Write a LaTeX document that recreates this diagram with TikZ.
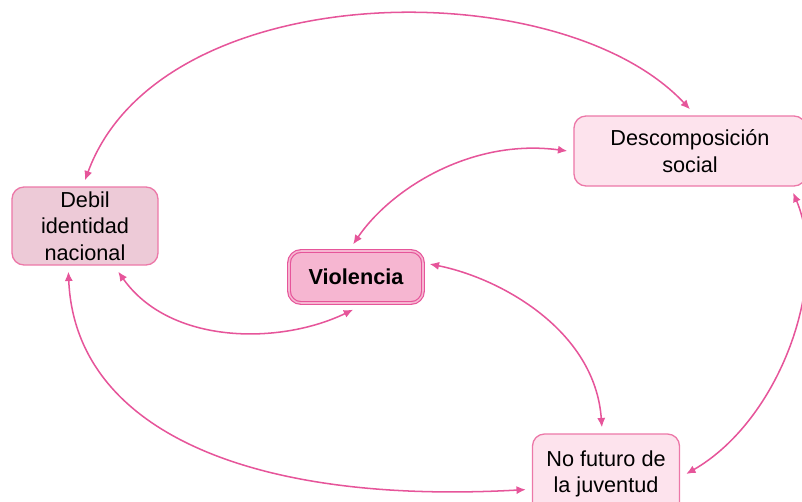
\documentclass[tikz,border=0pt]{standalone}
\usepackage{fontspec}
\setmainfont{Liberation Sans}
\usepackage{tikz}
\usetikzlibrary{arrows.meta}

\definecolor{linkpink}{HTML}{E6559A}
\definecolor{edgepink}{HTML}{EC78A8}
\definecolor{fillrose}{HTML}{EDCAD7}
\definecolor{filllight}{HTML}{FDE3ED}
\definecolor{fillmid}{HTML}{F6B6D1}

\begin{document}
\begin{tikzpicture}[x=0.03cm,y=-0.03cm]
\tikzset{box/.style = {shape=rectangle,rounded corners=0.36cm,draw=edgepink,line width=1.1pt,
  align=center,font=\fontsize{18.5}{22.5}\selectfont,outer sep=0.2cm,inner sep=0pt}}
\tikzset{link/.style = {<->,> = {Latex[length=8pt,width=7pt]},draw=linkpink,line width=1.3pt}}
\useasboundingbox (0,0) rectangle (802,502);
\node[box,fill=fillrose,minimum width=4.38cm,minimum height=2.34cm](deb) at (85,226) {Debil\\identidad\\nacional};
\node[box,fill=fillmid,draw=linkpink,double=fillmid,double distance=1.3pt,line width=1pt,
  minimum width=4.02cm,minimum height=1.56cm,font=\fontsize{18.5}{22.5}\selectfont\bfseries](vio) at (356,277) {Violencia};
\node[box,fill=filllight,minimum width=6.96cm,minimum height=2.1cm](des) at (690,151) {Descomposición\\social};
\node[box,fill=filllight,minimum width=4.41cm,minimum height=2.4cm](nof) at (606,474) {No futuro de\\la juventud};
\draw[link] (deb.north) .. controls (160,-25) and (560,-30) .. (des.north);
\draw[link] (des.west) .. controls (470,138) and (390,190) .. (vio.95);
\draw[link] (deb.-54) .. controls (170,345) and (280,345) .. (vio.-95);
\draw[link] (vio.10) .. controls (500,278) and (595,330) .. (nof.95);
\draw[link] (des.-22) .. controls (830,280) and (780,420) .. (nof.east);
\draw[link] (deb.-110) .. controls (75,430) and (250,505) .. (nof.191);
\end{tikzpicture}
\end{document}
